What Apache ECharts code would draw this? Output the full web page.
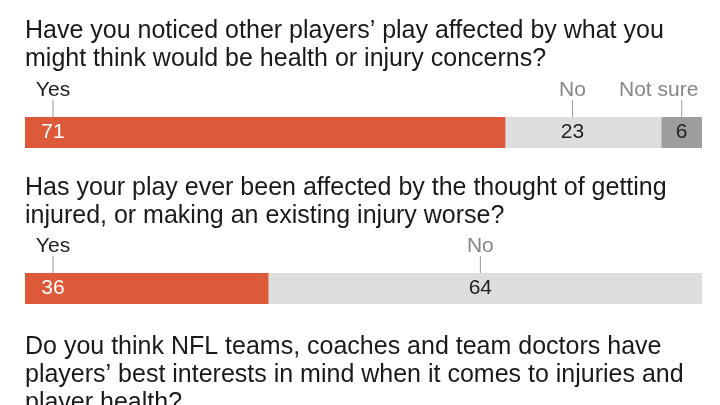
<!DOCTYPE html>
<html>
<head>
<meta charset="utf-8">
<script src="https://cdn.jsdelivr.net/npm/echarts@6/dist/echarts.min.js"></script>
<style>html,body{margin:0;padding:0;background:#fff}#c{width:720px;height:405px}</style>
</head>
<body>
<div id="c"></div>
<script>
const questions = [
  "Have you noticed other players\u2019 play affected by what you\nmight think would be health or injury concerns?",
  "Has your play ever been affected by the thought of getting\ninjured, or making an existing injury worse?",
  "Do you think NFL teams, coaches and team doctors have\nplayers\u2019 best interests in mind when it comes to injuries and\nplayer health?"
];
const answers1 = ["Yes", "No", "Not sure"];
const values1 = [71, 23, 6];
const answers2 = ["Yes", "No"];
const values2 = [36, 64];

const segColors = ["#dc5a3a", "#dcdddf", "#9c9d9f"];
const valColors = ["#ffffff", "#222222", "#222222"];
const catStyles = ["catA", "catB", "catR"];
// small horizontal nudges of the answer labels (style only)
const labelNudge = [[0, -11, 0], [0, -5]];

const FONT = "'Liberation Sans', Arial, Helvetica, sans-serif";

const chart = echarts.init(document.getElementById('c'));

function richFor(i) {
  return {
    catA: {fontSize: 21, color: '#1e1e1e', lineHeight: 20, height: 20, fontFamily: FONT, align: 'center'},
    catB: {fontSize: 21, color: '#858585', lineHeight: 20, height: 20, fontFamily: FONT, align: 'center'},
    catR: {fontSize: 21, color: '#858585', lineHeight: 20, height: 20, fontFamily: FONT, align: 'center', padding: [0, 46, 0, 0]},
    ln: {width: 0, height: 17, lineHeight: 17, borderColor: '#9a9a9a', borderWidth: 1, borderType: [1, 1], align: 'center', fontSize: 1},
    val: {fontSize: 21, lineHeight: 31, height: 31, fontFamily: FONT, align: 'center', color: valColors[i]},
    sp: {height: 37, lineHeight: 37, fontSize: 1, align: 'center'}
  };
}

function buildSeries(answers, values, gridIdx) {
  return answers.map((a, i) => ({
    type: 'bar',
    name: a,
    stack: 'q' + gridIdx,
    xAxisIndex: gridIdx,
    yAxisIndex: gridIdx,
    barWidth: 31,
    itemStyle: {color: segColors[i]},
    silent: true,
    data: [values[i]],
    label: {
      show: true,
      position: i === 0 ? 'insideLeft' : 'inside',
      distance: 28,
      offset: [labelNudge[gridIdx][i], 0],
      align: 'center',
      formatter: () => '{' + catStyles[i] + '|' + a + '}\n{ln| }\n{val|' + values[i] + '}\n{sp| }',
      rich: richFor(i)
    }
  }));
}

const titleCommon = {left: 25, padding: 0, textStyle: {fontSize: 25, lineHeight: 28, color: '#1a1a1a', fontWeight: 'normal', fontFamily: FONT}};

chart.setOption({
  animation: false,
  title: [
    Object.assign({text: questions[0], top: 17}, titleCommon),
    Object.assign({text: questions[1], top: 174}, titleCommon),
    Object.assign({text: questions[2], top: 333}, titleCommon)
  ],
  grid: [
    {left: 25, right: 18, top: 117, height: 31},
    {left: 25, right: 18, top: 273, height: 31}
  ],
  xAxis: [
    {type: 'value', gridIndex: 0, min: 0, max: 100, show: false},
    {type: 'value', gridIndex: 1, min: 0, max: 100, show: false}
  ],
  yAxis: [
    {type: 'category', gridIndex: 0, data: ['q1'], show: false},
    {type: 'category', gridIndex: 1, data: ['q2'], show: false}
  ],
  series: buildSeries(answers1, values1, 0).concat(buildSeries(answers2, values2, 1))
});
</script>
</body>
</html>
